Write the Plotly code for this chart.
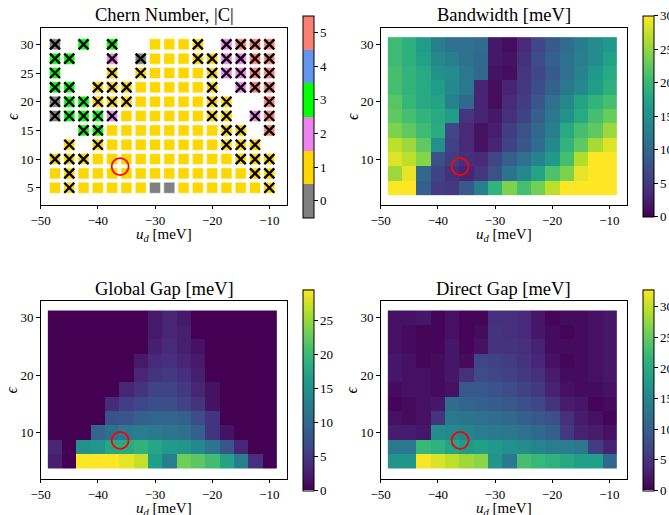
import plotly.graph_objects as go

# ---------------- data ----------------
ud = [-47.5, -45.0, -42.5, -40.0, -37.5, -35.0, -32.5, -30.0,
      -27.5, -25.0, -22.5, -20.0, -17.5, -15.0, -12.5, -10.0]
eps = [30.0, 27.5, 25.0, 22.5, 20.0, 17.5, 15.0, 12.5, 10.0, 7.5, 5.0]

N = None
chern = [
    [0, N, 3, N, 3, N, N, 1, 1, 1, 1, N, 2, 5, 5, 5],
    [3, 3, N, N, 2, N, 0, 1, 1, 1, 1, 1, 2, 2, 5, 5],
    [3, N, N, N, 1, N, 1, 1, 1, 1, 1, 1, 2, 2, 5, 5],
    [3, 3, N, 1, 1, 1, 1, 1, 1, 1, 1, 1, N, 2, 5, 5],
    [0, 3, 3, 1, 1, 1, 1, 1, 1, 1, 1, 1, 1, N, N, 5],
    [0, 3, 3, 3, 2, 1, 1, 1, 1, 1, 1, 1, 1, N, 2, 5],
    [N, N, 3, 3, 1, 1, 1, 1, 1, 1, 1, 1, 1, 1, N, 5],
    [N, 1, N, 1, 1, 1, 1, 1, 1, 1, 1, 1, 1, 1, 1, N],
    [1, 1, 1, 1, 1, 1, 1, 1, 1, 1, 1, 1, 1, 1, 1, 1],
    [1, 1, 1, 1, 1, 1, 1, 1, 1, 1, 1, 1, 1, 1, 1, 1],
    [1, 1, 1, 1, 1, 1, 1, 0, 0, 1, 1, 1, 1, 1, 1, 1],
]
crossed = [
    [1, 0, 1, 0, 1, 0, 0, 0, 0, 0, 1, 0, 1, 1, 1, 1],
    [1, 1, 0, 0, 1, 0, 1, 0, 0, 0, 1, 1, 1, 1, 1, 1],
    [1, 0, 0, 0, 1, 0, 1, 0, 0, 0, 0, 1, 1, 1, 1, 1],
    [1, 1, 0, 1, 1, 1, 0, 0, 0, 0, 0, 1, 0, 1, 1, 1],
    [1, 1, 1, 1, 1, 1, 0, 0, 0, 0, 0, 1, 1, 0, 0, 1],
    [1, 1, 1, 1, 1, 0, 0, 0, 0, 0, 0, 1, 1, 0, 1, 1],
    [0, 0, 1, 1, 0, 0, 0, 0, 0, 0, 0, 0, 1, 1, 0, 1],
    [0, 1, 0, 1, 0, 0, 0, 0, 0, 0, 0, 0, 1, 1, 1, 0],
    [1, 1, 1, 0, 0, 0, 0, 0, 0, 0, 0, 0, 0, 1, 1, 1],
    [0, 1, 0, 0, 0, 0, 0, 0, 0, 0, 0, 0, 0, 0, 1, 1],
    [0, 1, 0, 0, 0, 0, 0, 0, 0, 0, 0, 0, 0, 0, 0, 1],
]

bandwidth = [
    [20.5, 19, 16.5, 13, 11, 11, 10.5, 2, 1, 3.5, 6.5, 8.5, 10.5, 12.5, 14.5, 16],
    [20.5, 19, 17, 14, 13, 11, 10, 2, 1.5, 4, 7, 9, 11, 13, 14.5, 17],
    [21, 19.5, 18, 15, 14.5, 12, 10, 1.5, 1, 4.5, 6.5, 8.5, 11, 13.5, 16, 18],
    [21, 19.5, 18, 16.5, 14, 12, 3, 1, 3, 5, 7, 9.5, 12, 14, 16.5, 19],
    [22, 20, 18, 17.5, 13.5, 10, 3, 1, 3.5, 5.5, 8, 11, 14, 17.5, 19.5, 21],
    [22.5, 21, 19.5, 18, 16.5, 4.5, 3, 2, 4, 6, 9, 12, 15, 18, 21, 23],
    [24, 22.5, 20.5, 18.5, 6.5, 3.5, 1.5, 2.5, 5.5, 7.5, 10, 13, 18, 21, 22.5, 25.5],
    [27, 25.5, 22.5, 15, 6, 3.5, 1.5, 3, 6, 8, 10.5, 14, 19.5, 22.5, 26, 28.5],
    [28.5, 27, 24.5, 7.5, 5.5, 4, 3.5, 6.5, 9, 11, 13.5, 16, 21, 26.5, 30, 30],
    [25.5, 29, 10, 6, 4, 3, 4.5, 7.5, 11.5, 14, 17.5, 21.5, 24, 29, 30, 30],
    [30, 30, 9, 5.5, 5, 8.5, 13, 19.5, 24, 21, 23.5, 27, 30, 30, 30, 30],
]

global_gap = [
    [0, 0, 0, 0, 0, 0, 0, 2, 3, 2, 0, 0, 0, 0, 0, 0],
    [0, 0, 0, 0, 0, 0, 0, 2, 3, 2.5, 0, 0, 0, 0, 0, 0],
    [0, 0, 0, 0, 0, 0, 0, 2.5, 3.5, 2.5, 1.5, 0, 0, 0, 0, 0],
    [0, 0, 0, 0, 0, 0, 2, 3.5, 4, 3, 2, 0, 0, 0, 0, 0],
    [0, 0, 0, 0, 0, 0, 3, 4.5, 5, 4, 2.5, 0, 0, 0, 0, 0],
    [0, 0, 0, 0, 0, 3, 4.5, 6, 6, 5, 3, 1.5, 0, 0, 0, 0],
    [0, 0, 0, 0, 3.5, 5.5, 6.5, 7, 7, 6, 4.5, 1.5, 0, 0, 0, 0],
    [0, 0, 0, 0, 7.5, 8, 9, 9.5, 9.5, 9, 7, 4.5, 0, 0, 0, 0],
    [0, 0, 0, 9.5, 11, 12, 12.5, 12, 11.5, 11, 9, 4.5, 1.5, 0, 0, 0],
    [3, 0, 15, 15.5, 17.5, 18, 19, 17.5, 16, 15.5, 14, 11.5, 8, 3, 0, 0],
    [2.5, 0, 29.5, 29.6, 29.6, 28.5, 27, 16.5, 12.5, 23, 22, 20.5, 17, 12.5, 4, 0],
]

direct_gap = [
    [1.5, 1.5, 2, 0.5, 1.5, 0.5, 0.5, 4.5, 4.5, 4, 2, 0.5, 1, 1, 1.5, 2],
    [1.5, 1, 0.5, 0.5, 1.5, 0.3, 1, 5, 4.5, 4, 2, 1, 0.5, 1, 1.5, 2],
    [1.5, 1, 0.5, 0.5, 2, 0.5, 1.5, 5, 5, 4.5, 3, 1, 1, 1, 1.5, 2],
    [2, 1.5, 0.5, 1, 2, 1, 7, 6.5, 6, 5, 3.5, 1.5, 0.5, 1, 1.5, 2],
    [2, 1.5, 1.5, 1, 2, 4.5, 7.5, 7, 6.5, 5.5, 4.5, 2.5, 1, 1, 1.5, 2],
    [1, 1.5, 1.5, 1, 1.5, 9, 9, 8.5, 7.5, 6.5, 5.5, 3, 1.5, 1, 1, 1.5],
    [0.5, 1, 1.5, 2, 11.5, 10.5, 10, 9.5, 9, 8, 7, 5, 2.5, 2, 0.5, 1],
    [1.5, 1, 1.5, 5, 13, 12.5, 12, 11.5, 11, 10, 9, 8, 4.5, 2.5, 1.5, 0.5],
    [2.5, 2.5, 2, 16, 15.5, 15, 14, 13.5, 13, 12, 11, 10, 5.5, 3, 2.5, 1.5],
    [13, 13, 22, 21, 19, 18, 18.5, 17.5, 16.5, 16, 15, 14, 14, 13, 6, 3],
    [17, 17, 32.5, 31, 29.5, 28, 27, 17, 13.5, 23, 22, 21, 19.5, 18.5, 18.5, 11],
]

marked_point = [-36.1, 8.7]

panel_titles = ["Chern Number, |C|", "Bandwidth [meV]", "Global Gap [meV]", "Direct Gap [meV]"]
chern_colors = ["#808080", "#FFD700", "#EE82EE", "#00FF00", "#6495ED", "#FA8072"]

# ---------------- figure ----------------
W, H = 669, 515
FONT = "Liberation Serif"

def px_x(p):
    return p / W

def px_y(p):
    return (H - p) / H

dom_x = [[px_x(40.7), px_x(287.3)], [px_x(380.7), px_x(627.3)]]
dom_y = [[px_y(204.7), px_y(27.7)], [px_y(478.7), px_y(301.0)]]

fig = go.Figure()

# discrete colour scale for Chern numbers
cs = []
n = len(chern_colors)
for i, c in enumerate(chern_colors):
    cs.append([i / n, c])
    cs.append([(i + 1) / n, c])

sx, sy, sc, xx, xy = [], [], [], [], []
for r, yv in enumerate(eps):
    for c, xv in enumerate(ud):
        v = chern[r][c]
        if v is not None:
            sx.append(xv); sy.append(yv); sc.append(v)
            if crossed[r][c]:
                xx.append(xv); xy.append(yv)

cb_common = dict(thicknessmode="pixels", thickness=10.7, lenmode="fraction",
                 outlinewidth=1, outlinecolor="black", ticks="outside", ticklen=3.5,
                 tickwidth=1, tickcolor="black", xanchor="left", yanchor="middle",
                 tickfont=dict(family=FONT, size=13, color="black"), xpad=0, ypad=0)

fig.add_trace(go.Scatter(
    x=sx, y=sy, mode="markers", xaxis="x", yaxis="y", showlegend=False,
    marker=dict(symbol="square", size=11, color=sc, colorscale=cs, cmin=-0.5, cmax=5.5,
                line=dict(width=0.6, color="rgba(255,255,255,0.8)"),
                showscale=True,
                colorbar=dict(x=px_x(302.7), y=px_y(116.5), len=201.6 / H,
                              tickvals=[0, 1, 2, 3, 4, 5], **cb_common)),
))
fig.add_trace(go.Scatter(
    x=xx, y=xy, mode="markers", xaxis="x", yaxis="y", showlegend=False,
    marker=dict(symbol="x-thin-open", size=10, color="black", line=dict(width=2.3, color="black")),
))

heat_specs = [
    (bandwidth, "x2", "y2", 30.0, px_x(643.3), px_y(116.4), [0, 5, 10, 15, 20, 25, 30]),
    (global_gap, "x3", "y3", 29.6, px_x(302.7), px_y(390.0), [0, 5, 10, 15, 20, 25]),
    (direct_gap, "x4", "y4", 32.8, px_x(643.3), px_y(390.0), [0, 5, 10, 15, 20, 25, 30]),
]
for z, xa, ya, zmax, cbx, cby, tv in heat_specs:
    fig.add_trace(go.Heatmap(
        x=ud, y=eps, z=z, xaxis=xa, yaxis=ya, colorscale="Viridis", zmin=0, zmax=zmax,
        colorbar=dict(x=cbx, y=cby, len=200.8 / H, tickvals=tv, **cb_common),
    ))

for xa, ya in [("x", "y"), ("x2", "y2"), ("x3", "y3"), ("x4", "y4")]:
    fig.add_trace(go.Scatter(
        x=[marked_point[0]], y=[marked_point[1]], mode="markers", xaxis=xa, yaxis=ya,
        showlegend=False,
        marker=dict(symbol="circle-open", size=17, color="red", line=dict(width=1.8, color="red")),
    ))

axis_common = dict(showgrid=False, zeroline=False, showline=True, mirror=True,
                   linecolor="black", linewidth=1, ticks="outside", ticklen=3.5,
                   tickwidth=1, tickcolor="black",
                   tickfont=dict(family=FONT, size=13, color="black"))

layout = dict(width=W, height=H, margin=dict(l=0, r=0, t=0, b=0, autoexpand=False),
              paper_bgcolor="white", plot_bgcolor="white", showlegend=False)
names = [("xaxis", "yaxis"), ("xaxis2", "yaxis2"), ("xaxis3", "yaxis3"), ("xaxis4", "yaxis4")]
anchors = [("y", "x"), ("y2", "x2"), ("y3", "x3"), ("y4", "x4")]
annotations = []
for i, ((xn, yn), (xanc, yanc)) in enumerate(zip(names, anchors)):
    col, row = i % 2, i // 2
    layout[xn] = dict(domain=dom_x[col], anchor=xanc, range=[-50, -6.85],
                      tickvals=[-50, -40, -30, -20, -10], automargin=False, **axis_common)
    layout[yn] = dict(domain=dom_y[row], anchor=yanc, range=[2.05, 32.9], automargin=False,
                      tickvals=[10, 20, 30] if i else [5, 10, 15, 20, 25, 30], **axis_common)
    xc = (dom_x[col][0] + dom_x[col][1]) / 2
    top_px = 27.7 if row == 0 else 301.0
    bot_px = 204.7 if row == 0 else 478.7
    annotations.append(dict(text=panel_titles[i], x=xc, y=px_y(top_px - 12.5), xref="paper", yref="paper",
                            showarrow=False, xanchor="center", yanchor="middle",
                            font=dict(family=FONT, size=18.5, color="black")))
    annotations.append(dict(text="<i>u</i><sub><i>d</i></sub> [meV]", x=xc, y=px_y(bot_px + 30),
                            xref="paper", yref="paper", showarrow=False, xanchor="center",
                            yanchor="middle", font=dict(family=FONT, size=15, color="black")))
    lx = 11.7 if col == 0 else 351.7
    annotations.append(dict(text="<i>ϵ</i>", x=px_x(lx), y=(dom_y[row][0] + dom_y[row][1]) / 2,
                            xref="paper", yref="paper", showarrow=False, textangle=-90,
                            xanchor="center", yanchor="middle",
                            font=dict(family=FONT, size=16, color="black")))
layout["annotations"] = annotations
fig.update_layout(**layout)

fig.write_html("out.html")
